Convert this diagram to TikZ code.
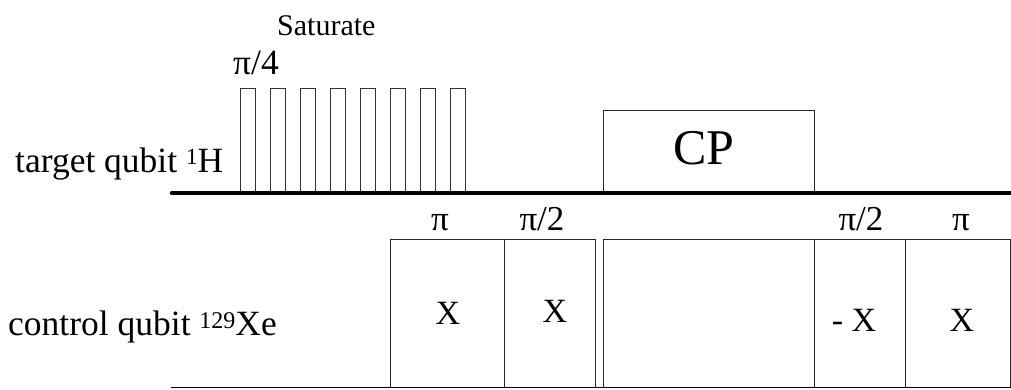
\documentclass[tikz,border=0pt]{standalone}
\usepackage{fontspec}
\setmainfont{Liberation Serif}
\begin{document}
\begin{tikzpicture}[x=1pt,y=-1pt,
  pulse/.style={draw=black!80, line width=0.9pt, fill=white},
  gatebox/.style={draw=black!85, line width=0.9pt},
  rail/.style={line width=4.6pt, line cap=round},
  lowrail/.style={line width=1.5pt},
  txt/.style={inner sep=0pt, anchor=base, font=\fontsize{35}{40}\selectfont},
  lefttxt/.style={inner sep=0pt, anchor=base west, font=\fontsize{35.5}{40}\selectfont},
  xtxt/.style={inner sep=0pt, anchor=base, font=\fontsize{34}{40}\selectfont},
  small/.style={inner sep=0pt, anchor=base west, font=\fontsize{30}{36}\selectfont},
  cptxt/.style={inner sep=0pt, anchor=base, font=\fontsize{50}{56}\selectfont}]
\useasboundingbox (0,0) rectangle (1011,389);

% saturation pulses
\foreach \i in {0,...,7}{
  \draw[pulse] ({240+30.1*\i},88) rectangle ({255+30.1*\i},193);
}
% CP box
\draw[gatebox, fill=white] (603,110) rectangle (814.5,193);
\node[cptxt] (cp) at (704,164) {CP};

% target rail
\draw[rail] (172,193) -- (1013,193);

% control boxes
\draw[gatebox] (390,239) rectangle (504.5,387.5);
\draw[gatebox] (504.5,239) rectangle (595,387.5);
\draw[gatebox] (603,239) rectangle (814.5,387.5);
\draw[gatebox] (814.5,239) rectangle (905,387.5);
\draw[gatebox] (905,239) rectangle (1010,387.5);
\draw[lowrail] (171,387.5) -- (1011,387.5);

% labels
\node[small] (sat) at (277,35) {Saturate};
\node[lefttxt] (p4) at (233,74) {π/4};
\node[lefttxt] (tq) at (15,172) {target qubit \raisebox{7.5pt}{\fontsize{23}{24}\selectfont 1}H};
\node[lefttxt] (cq) at (8,335) {control qubit \raisebox{7pt}{\fontsize{24}{24}\selectfont 129}Xe};

\node[txt] (a1) at (440,230) {π};
\node[txt] (a2) at (542,230) {π/2};
\node[txt] (a3) at (861,230) {π/2};
\node[txt] (a4) at (961,230) {π};

\node[xtxt] (x1) at (448,324) {X};
\node[xtxt] (x2) at (555,322) {X};
\node[xtxt] (x3) at (854,331) {- X};
\node[xtxt] (x4) at (962,331) {X};
\end{tikzpicture}
\end{document}
